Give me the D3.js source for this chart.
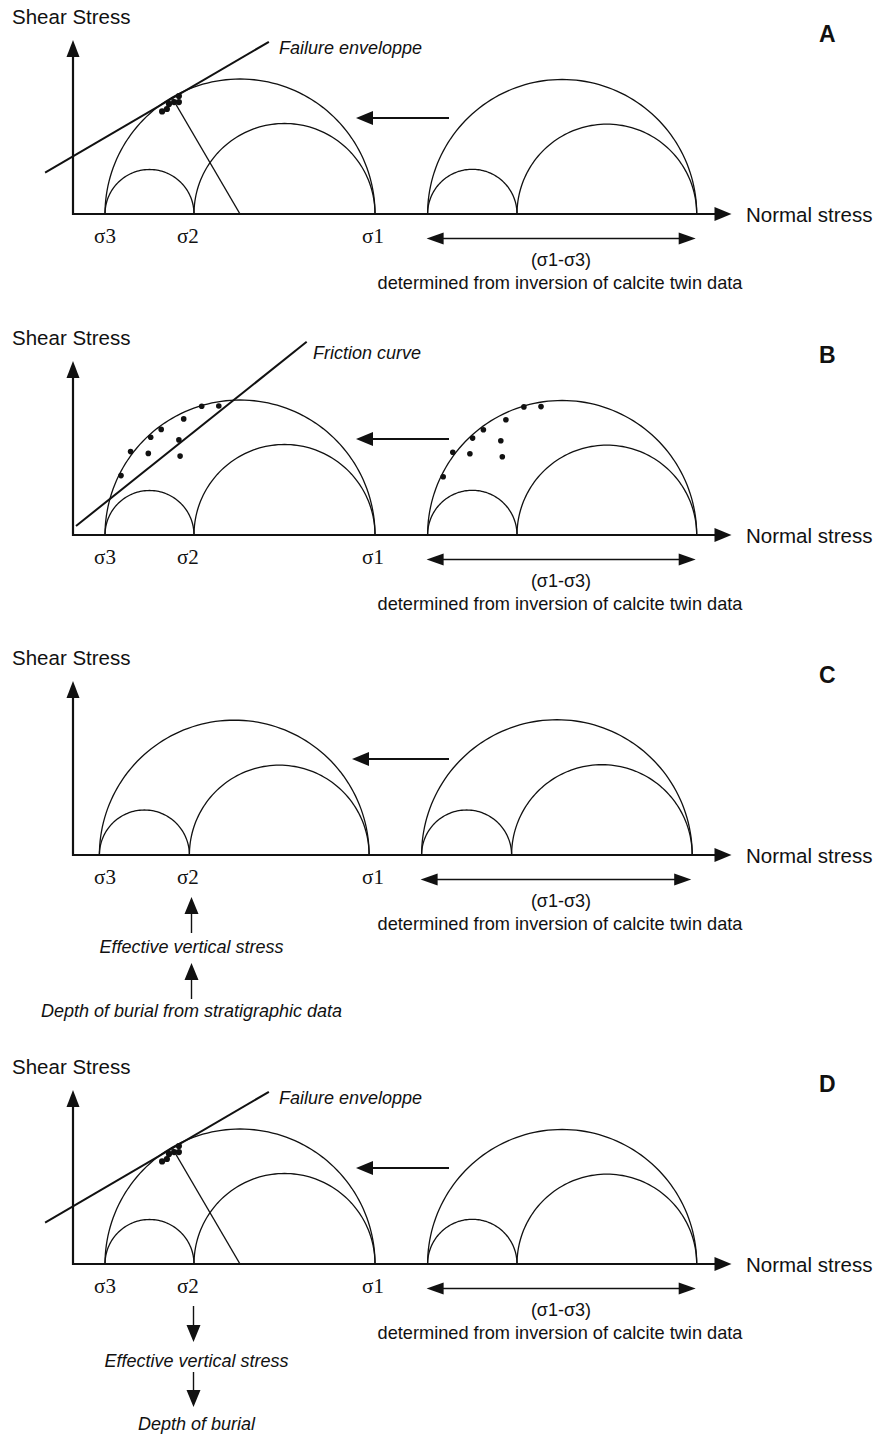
<!DOCTYPE html>
<html>
<head>
<meta charset="utf-8">
<script src="https://cdn.jsdelivr.net/npm/d3@7/dist/d3.min.js"></script>
<style>
  body { margin: 0; background: #fff; }
  svg { display: block; }
</style>
</head>
<body>
<script>
// ---- data (stress units, origin at axis corner) ----
var panel_letters = ["A", "B", "C", "D"];
var sigma_names = ["σ3", "σ2", "σ1"];
var sigma_left = [10.67, 40.33, 100.67];     // panels A, B, D
var sigma_right = [118.2, 148.0, 207.9];
var sigma_left_c = [8.8, 38.8, 98.7];        // panel C sits a bit to the left
var sigma_right_c = [116.2, 146.2, 206.4];
var sigma_label_pos = [10.67, 38.3, 100];

var failure_envelope = [[-9.3, 13.8], [65.3, 57.4]];
var friction_curve = [[1, 3], [77.9, 64.4]];

var failure_dots = [[29.7, 34.2], [31.3, 35.0], [32.0, 36.7], [33.7, 37.3], [35.3, 37.3], [35.3, 39.3]];
var friction_dots_left = [[16.0, 19.8], [19.2, 27.8], [25.1, 27.2], [25.9, 32.6], [29.4, 35.2],
                          [36.9, 38.7], [35.3, 31.7], [35.7, 26.3], [42.9, 42.9], [48.6, 43.0]];
var friction_dots_right = [[123.4, 19.4], [126.6, 27.6], [132.3, 27.1], [133.2, 32.3], [136.8, 35.1],
                           [144.3, 38.4], [142.6, 31.4], [143.1, 26.1], [150.3, 42.7], [156.0, 42.8]];

// ---- page setup ----
var width = 882, height = 1435;
var sans = "'Liberation Sans', Arial, sans-serif";
var serif = "'Liberation Serif', 'Times New Roman', serif";

var svg = d3.select("body").append("svg")
    .attr("width", width)
    .attr("height", height);
svg.append("rect").attr("width", width).attr("height", height).attr("fill", "#fff");

var x = d3.scaleLinear().domain([0, 220]).range([73, 733]);

// filled triangular arrow head, dir in radians (0 = pointing right)
function arrow_head(g, tip_x, tip_y, dir, len, half_w) {
    var bx = tip_x - len * Math.cos(dir), by = tip_y - len * Math.sin(dir);
    var nx = -Math.sin(dir) * half_w, ny = Math.cos(dir) * half_w;
    g.append("path")
        .attr("d", "M" + tip_x + "," + tip_y + "L" + (bx + nx) + "," + (by + ny) + "L" + (bx - nx) + "," + (by - ny) + "Z")
        .attr("fill", "#111");
}

function draw_panel(cfg) {
    var base_y = cfg.base_y;
    var y = d3.scaleLinear().domain([0, 58]).range([base_y, base_y - 174]);
    var g = svg.append("g");

    var line_gen = d3.line().x(function (d) { return x(d[0]); }).y(function (d) { return y(d[1]); });

    // Mohr half circles for both stress states
    [cfg.left, cfg.right].forEach(function (s) {
        [[s[0], s[2]], [s[0], s[1]], [s[1], s[2]]].forEach(function (pair) {
            var c = (pair[0] + pair[1]) / 2, r = (pair[1] - pair[0]) / 2;
            var pts = d3.range(0, 181, 2).map(function (a) {
                var t = a * Math.PI / 180;
                return [c + r * Math.cos(t), r * Math.sin(t)];
            });
            g.append("path").attr("d", line_gen(pts))
                .attr("fill", "none").attr("stroke", "#111").attr("stroke-width", 1.3);
        });
    });

    // axes
    g.append("line").attr("x1", x(0)).attr("y1", base_y).attr("x2", 716).attr("y2", base_y)
        .attr("stroke", "#111").attr("stroke-width", 2.2);
    arrow_head(g, 731.5, base_y, 0, 17, 7);
    g.append("line").attr("x1", x(0)).attr("y1", base_y + 1).attr("x2", x(0)).attr("y2", base_y - 158)
        .attr("stroke", "#111").attr("stroke-width", 2.2);
    arrow_head(g, x(0), base_y - 174, -Math.PI / 2, 17, 6.5);

    // left-pointing arrow between the two states
    var ay = base_y - 96;
    g.append("line").attr("x1", 449).attr("y1", ay).attr("x2", cfg.arrow_tip + 12).attr("y2", ay)
        .attr("stroke", "#111").attr("stroke-width", 2);
    arrow_head(g, cfg.arrow_tip, ay, Math.PI, 17, 7);

    // double arrow under the right state
    var dy = base_y + 24.5;
    var dx1 = x(cfg.right[0]) - 1, dx2 = x(cfg.right[2]) - 1;
    g.append("line").attr("x1", dx1 + 12).attr("y1", dy).attr("x2", dx2 - 12).attr("y2", dy)
        .attr("stroke", "#111").attr("stroke-width", 1.6);
    arrow_head(g, dx1, dy, Math.PI, 17, 6);
    arrow_head(g, dx2, dy, 0, 17, 6);

    // texts
    g.append("text").attr("x", 12).attr("y", base_y - 190).text("Shear Stress")
        .style("font-family", sans).style("font-size", "20.5px").attr("fill", "#111");
    g.append("text").attr("x", 746).attr("y", base_y + 8).text("Normal stress")
        .style("font-family", sans).style("font-size", "20.5px").attr("fill", "#111");
    g.append("text").attr("x", 819).attr("y", base_y - 172).text(cfg.letter)
        .style("font-family", sans).style("font-size", "23px").style("font-weight", "bold").attr("fill", "#111");

    g.selectAll(".sig").data(sigma_names).enter().append("text")
        .attr("x", function (d, i) { return x(sigma_label_pos[i]); })
        .attr("y", base_y + 29)
        .attr("text-anchor", "middle")
        .style("font-family", serif).style("font-size", "21px").attr("fill", "#111")
        .text(function (d) { return d; });

    g.append("text").attr("x", 561).attr("y", base_y + 52).attr("text-anchor", "middle")
        .text("(σ1-σ3)").style("font-family", sans).style("font-size", "18px").attr("fill", "#111");
    g.append("text").attr("x", 560).attr("y", base_y + 75).attr("text-anchor", "middle")
        .text("determined from inversion of calcite twin data")
        .style("font-family", sans).style("font-size", "18.2px").attr("fill", "#111");

    // failure / friction line
    if (cfg.envelope) {
        g.append("path").attr("d", line_gen(cfg.envelope))
            .attr("fill", "none").attr("stroke", "#111").attr("stroke-width", 2);
        g.append("text").attr("x", cfg.env_label_x).attr("y", base_y + cfg.env_label_dy)
            .text(cfg.env_label).style("font-family", sans).style("font-style", "italic")
            .style("font-size", "18px").attr("fill", "#111");
    }

    // radius from tangent point to the centre of the big circle
    if (cfg.radius_line) {
        var c = (cfg.left[0] + cfg.left[2]) / 2;
        var p = cfg.envelope[0], q = cfg.envelope[1];
        var ux = q[0] - p[0], uy = q[1] - p[1];
        var t = ((c - p[0]) * ux + (0 - p[1]) * uy) / (ux * ux + uy * uy);
        var foot = [p[0] + t * ux, p[1] + t * uy];
        g.append("path").attr("d", line_gen([foot, [c, 0]]))
            .attr("fill", "none").attr("stroke", "#111").attr("stroke-width", 1.4);
    }

    (cfg.dots || []).forEach(function (set) {
        g.selectAll(null).data(set).enter().append("circle")
            .attr("cx", function (d) { return x(d[0]); })
            .attr("cy", function (d) { return y(d[1]); })
            .attr("r", cfg.dot_r)
            .attr("fill", "#111");
    });

    // vertical stress / burial notes
    if (cfg.notes) {
        var n = cfg.notes;
        n.arrows.forEach(function (a) {
            var dir = a[1] < a[0] ? -Math.PI / 2 : Math.PI / 2;
            var sgn = a[1] < a[0] ? 1 : -1;
            g.append("line").attr("x1", n.arrow_x).attr("y1", base_y + a[0])
                .attr("x2", n.arrow_x).attr("y2", base_y + a[1] + sgn * 12)
                .attr("stroke", "#111").attr("stroke-width", 1.4);
            arrow_head(g, n.arrow_x, base_y + a[1], dir, 17, 7);
        });
        n.texts.forEach(function (tx) {
            g.append("text").attr("x", n.text_x).attr("y", base_y + tx[1])
                .attr("text-anchor", "middle").text(tx[0])
                .style("font-family", sans).style("font-style", "italic")
                .style("font-size", "18px").attr("fill", "#111");
        });
    }
}

draw_panel({
    letter: panel_letters[0], base_y: 214, left: sigma_left, right: sigma_right, arrow_tip: 356,
    envelope: failure_envelope, env_label: "Failure enveloppe", env_label_x: 279, env_label_dy: -160,
    radius_line: true, dots: [failure_dots], dot_r: 3.1
});
draw_panel({
    letter: panel_letters[1], base_y: 535, left: sigma_left, right: sigma_right, arrow_tip: 356,
    envelope: friction_curve, env_label: "Friction curve", env_label_x: 313, env_label_dy: -176,
    dots: [friction_dots_left, friction_dots_right], dot_r: 2.8
});
draw_panel({
    letter: panel_letters[2], base_y: 855, left: sigma_left_c, right: sigma_right_c, arrow_tip: 352,
    notes: {
        arrow_x: 191.5, text_x: 191.5,
        arrows: [[78, 42], [144, 108]],
        texts: [["Effective vertical stress", 98], ["Depth of burial from stratigraphic data", 162]]
    }
});
draw_panel({
    letter: panel_letters[3], base_y: 1264, left: sigma_left, right: sigma_right, arrow_tip: 356,
    envelope: failure_envelope, env_label: "Failure enveloppe", env_label_x: 279, env_label_dy: -160,
    radius_line: true, dots: [failure_dots], dot_r: 3.1,
    notes: {
        arrow_x: 193.5, text_x: 196.5,
        arrows: [[42, 78], [108, 143]],
        texts: [["Effective vertical stress", 103], ["Depth of burial", 166]]
    }
});
</script>
</body>
</html>
